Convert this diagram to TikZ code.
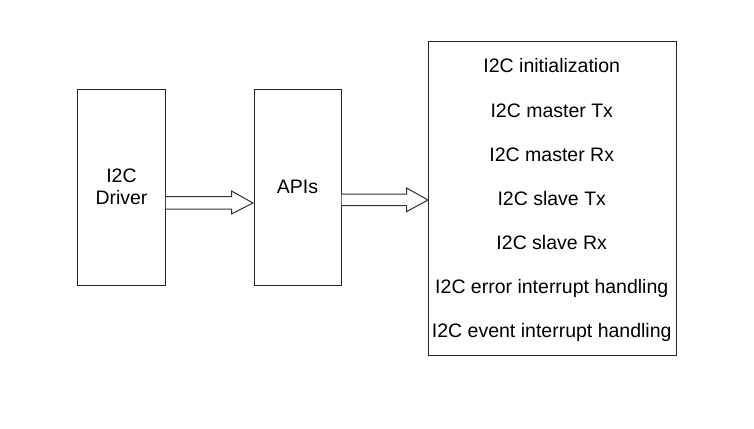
\documentclass[tikz,border=0pt]{standalone}
\usepackage{fontspec}
\setmainfont{Liberation Sans}
\usetikzlibrary{calc}
\begin{document}
\begin{tikzpicture}[x=1pt,y=-1pt,
  box/.style={draw=black!85, line width=1pt, inner sep=0pt, align=center,
    font=\fontsize{19.5}{22.4}\selectfont},
  item/.style={anchor=base, inner sep=0pt, font=\fontsize{19.5}{22.4}\selectfont},
  fatarrow/.style={draw=black!80, line width=1pt, fill=white, line join=miter}]
\useasboundingbox (0,0) rectangle (754,428);
\node[box, minimum width=87.5pt, minimum height=196pt] (drv) at (121.5,187) {I2C\\Driver};
\node[box, minimum width=87pt, minimum height=196pt] (api) at (297.5,187) {APIs};
\node[box, minimum width=247.5pt, minimum height=314pt] (list) at (552.25,198.85) {};
\foreach \t [count=\i from 0] in {I2C initialization, I2C master Tx, I2C master Rx, I2C slave Tx, I2C slave Rx, I2C error interrupt handling, I2C event interrupt handling}
  \node[item] (it\i) at ($(list.north)+(-0.5,31.6+44.07*\i)$) {\t};
% arrow Driver -> APIs
\draw[fatarrow] ($(drv.east)+(0,9.7)$) -- ($(api.west)+(-22,9.7)$) -- ($(api.west)+(-22,4)$)
  -- ($(api.west)+(-0.5,16)$) -- ($(api.west)+(-22,27)$) -- ($(api.west)+(-22,22)$)
  -- ($(drv.east)+(0,22)$);
% arrow APIs -> list
\coordinate (lw) at (list.west |- api.east);
\draw[fatarrow] ($(api.east)+(0,7)$) -- ($(lw)+(-21.5,7)$) -- ($(lw)+(-21.5,1)$)
  -- ($(lw)+(0,13)$) -- ($(lw)+(-21.5,24.7)$) -- ($(lw)+(-21.5,18.7)$)
  -- ($(api.east)+(0,18.7)$);
\end{tikzpicture}
\end{document}
